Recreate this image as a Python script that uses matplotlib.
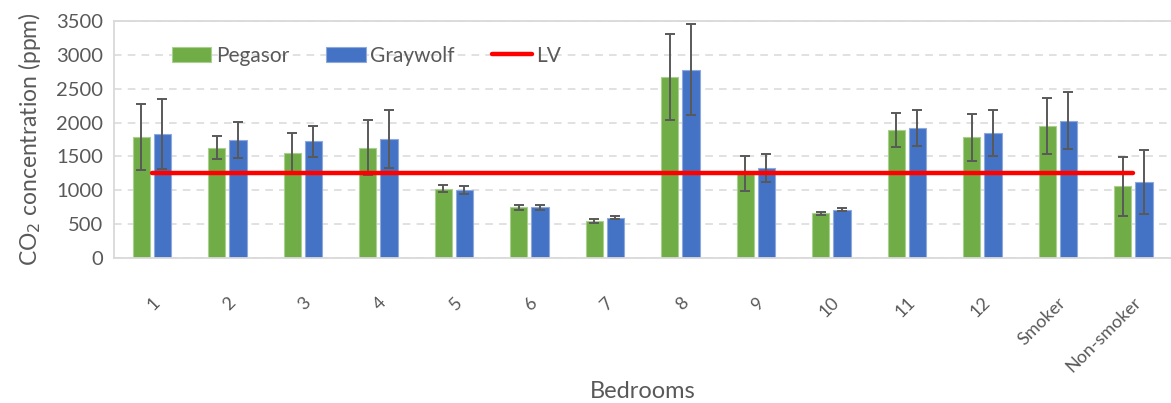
import numpy as np
import matplotlib
matplotlib.use("Agg")
import matplotlib.pyplot as plt

plt.rcParams["font.family"] = ["Lato", "DejaVu Sans"]

# -------------------------------------------------------
# Data: mean CO2 per bedroom for the two sensors, with std
# -------------------------------------------------------
bedrooms = ["1", "2", "3", "4", "5", "6", "7", "8", "9", "10", "11", "12",
            "Smoker", "Non-smoker"]
pegasor = [1785, 1630, 1550, 1630, 1025, 745, 545, 2670, 1245, 660, 1895, 1780, 1950, 1055]
pegasor_sd = [490, 175, 290, 410, 45, 40, 30, 640, 255, 25, 250, 345, 410, 440]
graywolf = [1830, 1740, 1720, 1760, 1005, 745, 595, 2780, 1330, 710, 1920, 1845, 2025, 1125]
graywolf_sd = [515, 270, 230, 430, 55, 40, 25, 670, 205, 20, 260, 345, 420, 475]
lv = 1260  # limit value

GREEN = "#70AD47"
BLUE = "#4472C4"
GRID = "#D9D9D9"
TEXT = "#595959"

fig = plt.figure(figsize=(11.71, 4.03), dpi=100)
ax = fig.add_axes([0.0974, 0.36, 0.9026, 0.588])

x = np.arange(len(bedrooms))
w = 0.23
off = 0.14
err_kw = dict(ecolor=TEXT, elinewidth=1.4, capsize=3.5, capthick=1.4)

b1 = ax.bar(x - off, pegasor, w, yerr=pegasor_sd, color=GREEN, edgecolor="#A9D08E",
            linewidth=0.8, error_kw=err_kw, label="Pegasor", zorder=2)
b2 = ax.bar(x + off, graywolf, w, yerr=graywolf_sd, color=BLUE, edgecolor="#8EA9DB",
            linewidth=0.8, error_kw=err_kw, label="Graywolf", zorder=2)
l1, = ax.plot(x, [lv] * len(x), color="#FF0000", linewidth=3.2,
              solid_capstyle="round", label="LV", zorder=3)

ax.set_xlim(-0.5, len(bedrooms) - 0.5)
ax.set_ylim(0, 3500)
ax.set_yticks(np.arange(0, 3501, 500))
ax.yaxis.grid(True, linestyle=(0, (5, 4)), color=GRID, linewidth=1.1, zorder=0)
ax.set_axisbelow(True)

for side in ["left", "top", "bottom"]:
    ax.spines[side].set_color(GRID)
    ax.spines[side].set_linewidth(1.3)
ax.spines["right"].set_visible(False)

ax.tick_params(axis="both", length=0, colors=TEXT, labelsize=14.5)
ax.tick_params(axis="y", pad=8)
ax.set_xticks(x)
ax.set_xticklabels(bedrooms, rotation=45, ha="right", rotation_mode="anchor",
                   fontsize=13, color=TEXT)
ax.tick_params(axis="x", pad=26)

ax.set_ylabel("CO$_2$ concentration (ppm)", fontsize=16.5, color=TEXT, labelpad=9)
ax.set_xlabel("Bedrooms", fontsize=17, color=TEXT, labelpad=4)

leg = ax.legend([b1, b2, l1], ["Pegasor", "Graywolf", "LV"],
                loc="upper left", bbox_to_anchor=(0.037, 0.975), ncol=3, frameon=False,
                fontsize=15, handlelength=1.9, handleheight=0.75, columnspacing=1.8,
                handletextpad=0.2)
for t in leg.get_texts():
    t.set_color(TEXT)

fig.savefig("out.png", dpi=100)
